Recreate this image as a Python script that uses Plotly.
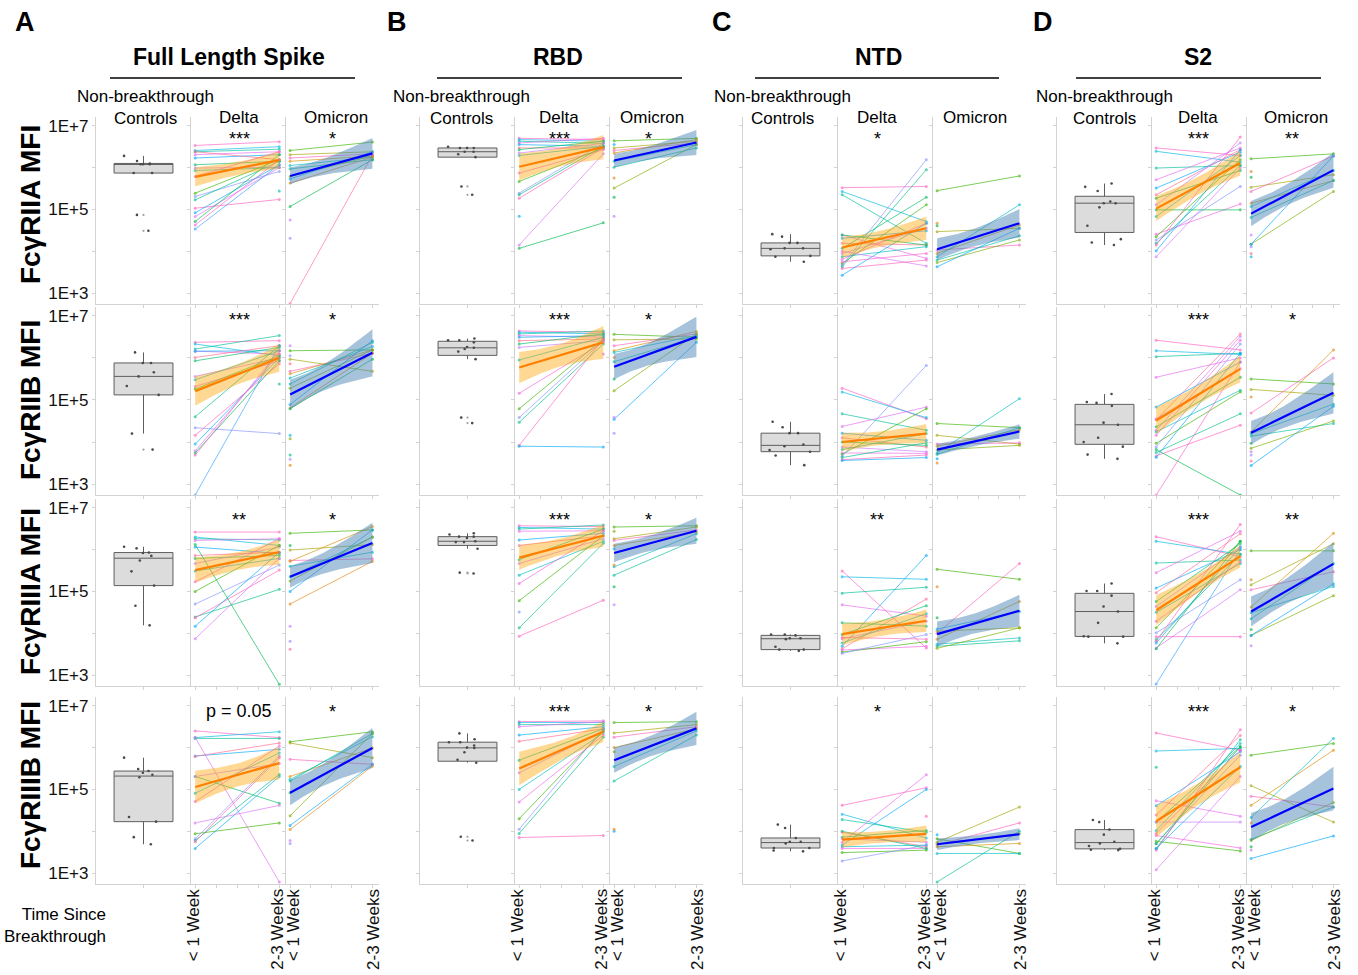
import numpy as np
import plotly.graph_objects as go

# ---------------- labels ----------------
ANTIGENS = ["Full Length Spike", "RBD", "NTD", "S2"]
ANTIGEN_KEYS = ["FLS", "RBD", "NTD", "S2"]
LETTERS = ["A", "B", "C", "D"]
RECEPTORS = ["FcγRIIA", "FcγRIIB", "FcγRIIIA", "FcγRIIIB"]
RECEPTOR_KEYS = ["IIA", "IIB", "IIIA", "IIIB"]
TIMEPOINTS = ["< 1 Week", "2-3 Weeks"]
Y_TICKVALS = [3, 4, 5, 6, 7]
Y_TICKTEXT = ["1E+3", "", "1E+5", "", "1E+7"]

SIG_DELTA = [["***", "***", "*", "***"],
             ["***", "***", "", "***"],
             ["**", "***", "**", "***"],
             ["p = 0.05", "***", "*", "***"]]
SIG_OMICRON = [["*", "*", "", "**"],
               ["*", "*", "", "*"],
               ["*", "*", "", "**"],
               ["*", "*", "", "*"]]

# ---------------- data (log10 MFI) ----------------
# ctrl: non-breakthrough controls; delta/omicron: (<1 week, 2-3 weeks) pairs per subject
# *_fit: [fit at <1 wk, fit at 2-3 wk, CI half-width at <1 wk, CI half-width at 2-3 wk]
FLS_IIA_ctrl = [6.28, 6.16, 6.08, 6.08, 6.08, 6.10, 5.87, 5.87, 4.87, 4.49]
FLS_IIA_delta = [(6.53, 6.62), (6.41, 6.50), (6.38, 6.44), (6.31, 6.38), (6.23, 6.31), (6.38, 6.19), (6.07, 6.15),
                 (5.99, 6.01), (5.93, 6.00), (5.79, 6.38), (5.39, 6.19), (5.31, 5.91), (5.23, 6.15), (5.03, 5.24),
                 (4.92, 6.07), (4.83, 6.00), (4.71, 6.31), (4.63, 6.19), (4.53, 6.07), (None, 5.44)]
FLS_IIA_omicron = [(6.41, 6.61), (6.31, 6.38), (6.23, 6.33), (6.15, 6.28), (6.05, 6.25), (5.97, 6.19), (5.79, 6.28),
                   (5.73, 6.38), (5.63, 6.25), (5.07, 6.19), (4.75, None), (4.31, None), (2.75, 6.30)]
FLS_IIA_delta_fit = [5.78, 6.18, 0.23, 0.21]
FLS_IIA_omicron_fit = [5.80, 6.34, 0.20, 0.37]

FLS_IIB_ctrl = [6.13, 5.88, 5.88, 5.66, 5.56, 5.33, 5.12, 4.20, 3.82]
FLS_IIB_delta = [(6.37, 6.41), (6.33, 6.05), (6.21, 6.53), (6.16, 6.09), (6.16, 6.17), (6.01, 6.29), (5.93, 6.25),
                 (5.56, 6.00), (5.48, 6.17), (5.32, 5.93), (5.26, 6.05), (4.34, 4.20), (4.60, 6.29), (4.16, 5.86),
                 (3.95, 6.00), (3.79, 6.09), (3.74, 5.93), (3.69, 6.17), (2.74, 6.29), (None, 5.38)]
FLS_IIB_omicron = [(6.17, 6.19), (5.97, 5.68), (5.68, 6.11), (5.62, 6.19), (5.52, 6.27), (5.38, 6.37), (5.28, 6.19),
                   (4.89, 6.41), (4.81, 6.11), (4.79, 5.97), (6.29, None), (6.05, None), (5.86, None), (4.16, None),
                   (4.08, None), (3.69, None), (3.59, None), (3.45, None)]
FLS_IIB_delta_fit = [5.21, 6.00, 0.35, 0.33]
FLS_IIB_omicron_fit = [5.13, 6.12, 0.35, 0.56]

FLS_IIIA_ctrl = [6.07, 6.03, 5.93, 5.92, 5.85, 5.74, 5.48, 5.14, 4.66, 4.19]
FLS_IIIA_delta = [(6.42, 6.42), (6.30, 6.10), (6.26, 6.23), (6.22, 6.26), (6.06, 5.91), (5.86, 5.94), (5.79, 5.86),
                  (5.67, 6.06), (5.49, 5.79), (5.23, 6.26), (5.00, 6.10), (4.70, 5.63), (4.39, 5.05), (4.37, 5.51),
                  (4.17, 5.94), (3.87, 5.79), (6.12, 2.78)]
FLS_IIIA_omicron = [(6.39, 6.47), (5.99, 6.12), (5.74, 5.78), (5.72, 6.55), (5.60, 5.94), (5.35, 6.30), (5.25, 6.30),
                    (5.00, 6.47), (4.70, 5.72), (6.10, None), (4.17, None), (3.81, None), (3.62, None)]
FLS_IIIA_delta_fit = [5.51, 5.94, 0.30, 0.30]
FLS_IIIA_omicron_fit = [5.35, 6.16, 0.26, 0.48]

FLS_IIIB_ctrl = [5.76, 5.49, 5.44, 5.40, 5.35, 5.29, 4.34, 4.23, 3.86, 3.69]
FLS_IIIB_delta = [(6.40, 6.24), (6.24, 6.38), (6.22, 6.22), (6.24, 2.79), (5.80, 5.96), (5.79, 6.11), (5.31, 4.67),
                  (5.31, 5.62), (4.91, 5.87), (4.71, 6.04), (3.94, 4.20), (3.82, 5.80), (3.78, 5.36), (3.75, 5.76),
                  (3.59, 5.31), (4.20, 4.62)]
FLS_IIIB_omicron = [(6.14, 6.38), (6.11, 5.76), (5.72, 5.60), (5.31, 5.99), (5.24, 6.26), (5.20, 6.34), (4.37, 6.34),
                    (4.14, 5.60), (4.04, 5.56), (4.92, None), (3.78, None), (3.71, None)]
FLS_IIIB_delta_fit = [5.06, 5.63, 0.39, 0.39]
FLS_IIIB_omicron_fit = [4.92, 5.99, 0.30, 0.48]

RBD_IIA_ctrl = [6.50, 6.47, 6.47, 6.47, 6.38, 6.38, 6.32, 6.25, 5.55, 5.35]
RBD_IIA_delta = [(6.70, 6.67), (6.67, 6.63), (6.63, 6.58), (6.59, 6.70), (6.55, 6.51), (6.47, 6.47), (6.43, 6.63),
                 (6.35, 6.58), (6.29, 6.51), (5.87, 6.43), (5.67, 6.47), (5.39, 6.58), (5.35, 6.51), (5.27, 6.47),
                 (4.84, None), (4.15, 6.33), (4.07, 4.68)]
RBD_IIA_omicron = [(6.64, 6.70), (6.47, 6.63), (6.41, 6.59), (6.35, 6.67), (6.15, 6.55), (6.01, 6.47), (5.51, 6.55),
                   (6.55, None), (5.75, None), (5.29, None), (4.84, None)]
RBD_IIA_delta_fit = [6.02, 6.49, 0.32, 0.29]
RBD_IIA_omicron_fit = [6.17, 6.60, 0.16, 0.30]

RBD_IIB_ctrl = [6.46, 6.42, 6.42, 6.37, 6.26, 6.24, 6.21, 6.15, 5.97, 4.58, 4.45]
RBD_IIB_delta = [(6.64, 6.61), (6.61, 6.57), (6.57, 6.64), (6.53, 6.49), (6.49, 6.53), (6.41, 6.45), (6.33, 6.57),
                 (6.25, 6.41), (5.95, 6.49), (5.16, 6.37), (4.79, 6.45), (4.58, 6.41), (4.47, 6.33), (3.92, 6.45),
                 (3.90, 3.88), (None, 6.09)]
RBD_IIB_omicron = [(6.56, 6.49), (6.43, 6.45), (6.29, 6.57), (6.17, 6.63), (6.13, 6.53), (5.91, 6.49), (5.22, 6.57),
                   (4.54, 6.37), (6.01, None), (5.50, None), (4.59, None), (4.21, None)]
RBD_IIB_delta_fit = [5.77, 6.37, 0.37, 0.39]
RBD_IIB_omicron_fit = [5.79, 6.50, 0.30, 0.48]

RBD_IIIA_ctrl = [6.39, 6.36, 6.31, 6.31, 6.28, 6.20, 6.18, 6.18, 6.02, 5.45, 5.43]
RBD_IIIA_delta = [(6.57, 6.55), (6.53, 6.49), (6.49, 6.59), (6.44, 6.45), (6.23, 6.39), (6.10, 6.33), (5.76, 6.49),
                  (5.67, 6.26), (5.39, 6.20), (5.19, 6.45), (4.78, 6.33), (4.51, None), (4.13, 6.15), (3.93, 4.79)]
RBD_IIIA_omicron = [(6.54, 6.57), (6.26, 6.54), (6.22, 6.47), (6.10, 6.42), (5.59, 6.38), (5.39, 6.24), (6.44, None),
                    (6.02, None), (5.63, None), (5.11, None), (4.68, None)]
RBD_IIIA_delta_fit = [5.81, 6.33, 0.29, 0.27]
RBD_IIIA_omicron_fit = [5.92, 6.45, 0.22, 0.31]

RBD_IIIB_ctrl = [6.34, 6.20, 6.13, 6.13, 6.05, 6.00, 5.99, 5.89, 5.71, 5.64, 3.87, 3.78]
RBD_IIIB_delta = [(6.62, 6.64), (6.60, 6.60), (6.55, 6.55), (6.50, 6.62), (6.30, 6.50), (6.15, 6.45), (5.70, 6.45),
                  (5.40, 6.40), (5.00, 6.35), (4.70, 6.30), (4.30, 6.40), (4.05, 6.45), (3.95, 6.25), (3.85, 3.90)]
RBD_IIIB_omicron = [(6.60, 6.62), (6.35, 6.55), (6.25, 6.50), (6.00, 6.45), (5.55, 6.40), (5.20, 6.30), (5.90, None),
                    (4.00, None), (4.05, None)]
RBD_IIIB_delta_fit = [5.50, 6.38, 0.40, 0.25]
RBD_IIIB_omicron_fit = [5.70, 6.46, 0.30, 0.40]

NTD_IIA_ctrl = [4.41, 4.35, 4.20, 4.20, 4.07, 4.07, 4.05, 3.89, 3.87, 3.75]
NTD_IIA_delta = [(5.52, 5.55), (5.43, 4.71), (5.35, 4.19), (4.39, 3.83), (4.31, 4.49), (4.19, 4.15), (4.07, 5.29),
                 (3.95, 4.55), (3.87, 4.11), (3.81, 4.67), (3.71, 5.11), (3.67, 6.19), (3.63, 5.95), (3.59, 3.79),
                 (3.43, 4.67), (4.00, 3.65), (4.39, 4.15), (3.75, 3.95)]
NTD_IIA_omicron = [(5.45, 5.80), (4.47, 4.55), (4.03, 4.15), (3.95, 4.63), (3.87, 5.11), (3.79, 4.37), (3.73, 4.27),
                   (3.63, 4.55), (4.67, None), (4.61, None)]
NTD_IIA_delta_fit = [4.09, 4.55, 0.25, 0.28]
NTD_IIA_omicron_fit = [4.05, 4.67, 0.26, 0.34]

NTD_IIB_ctrl = [4.48, 4.35, 4.21, 4.21, 3.94, 3.90, 3.81, 3.77, 3.68, 3.45]
NTD_IIB_delta = [(5.28, 4.55), (5.19, 4.58), (4.67, 4.28), (4.37, 4.83), (4.21, 4.04), (4.10, 3.88), (4.00, 3.92),
                 (3.88, 3.77), (3.82, 4.20), (3.74, 3.73), (3.71, 4.79), (3.66, 5.82), (3.63, 3.98), (3.58, 3.69),
                 (3.56, 3.63)]
NTD_IIB_omicron = [(4.44, 4.34), (4.16, 3.95), (3.95, 3.98), (3.90, 4.29), (3.74, 5.03), (3.71, 4.34), (3.81, 3.92),
                   (3.60, None), (3.50, None)]
NTD_IIB_delta_fit = [4.00, 4.20, 0.22, 0.23]
NTD_IIB_omicron_fit = [3.82, 4.25, 0.14, 0.17]

NTD_IIIA_ctrl = [3.97, 3.97, 3.95, 3.88, 3.88, 3.86, 3.68, 3.61, 3.61, 3.58]
NTD_IIIA_delta = [(5.49, 3.65), (5.35, 5.29), (4.96, 5.10), (4.68, 4.41), (3.69, 5.86), (3.63, 4.82), (3.97, 4.66),
                  (3.87, 4.29), (3.77, 4.47), (3.60, 3.69), (3.55, 3.80), (3.52, 3.97), (4.25, 4.17), (3.90, 3.86)]
NTD_IIIA_omicron = [(5.53, 5.29), (4.05, 4.13), (4.00, 5.67), (3.86, 4.76), (3.74, 3.89), (3.69, 3.82), (3.64, 4.13),
                    (4.10, 4.52), (5.11, None), (4.37, None)]
NTD_IIIA_delta_fit = [3.98, 4.30, 0.26, 0.27]
NTD_IIIA_omicron_fit = [3.98, 4.54, 0.30, 0.38]

NTD_IIIB_ctrl = [4.16, 4.08, 3.84, 3.75, 3.75, 3.71, 3.60, 3.60, 3.54, 3.52]
NTD_IIIB_delta = [(4.62, 5.04), (4.41, 3.84), (4.28, 3.98), (3.74, 5.35), (3.67, 5.00), (3.98, 3.63), (3.86, 4.02),
                  (3.82, 3.74), (3.63, 3.67), (3.59, 3.59), (3.49, 3.55), (3.29, 3.67), (4.00, 3.59), (None, 4.36)]
NTD_IIIB_omicron = [(3.82, 3.47), (3.74, 4.58), (3.67, 4.20), (3.63, 3.71), (3.47, 3.47), (2.79, 4.00), (3.70, 3.94),
                    (3.92, None)]
NTD_IIIB_delta_fit = [3.80, 3.94, 0.18, 0.20]
NTD_IIIB_omicron_fit = [3.69, 3.93, 0.14, 0.14]

S2_IIA_ctrl = [5.62, 5.54, 5.44, 5.19, 5.15, 5.15, 5.05, 4.61, 4.29, 4.21, 4.15]
S2_IIA_delta = [(6.47, 6.29), (6.39, 6.13), (5.99, 6.05), (5.71, 6.47), (5.51, 6.37), (5.35, 6.43), (5.27, 5.93),
                (5.11, 6.59), (4.83, 6.29), (4.41, 5.13), (4.35, 6.19), (4.27, 5.55), (4.19, 6.05), (4.15, 6.73),
                (4.01, 6.43), (3.87, 5.99), (4.99, 4.99)]
S2_IIA_omicron = [(6.21, 6.33), (5.53, 5.83), (5.43, 6.28), (5.15, 5.69), (5.07, 5.93), (4.81, 5.69), (4.17, 5.43),
                  (4.17, 6.28), (5.91, None), (5.77, None), (4.39, None), (4.11, None), (3.95, None), (3.87, None)]
S2_IIA_delta_fit = [5.02, 6.11, 0.30, 0.30]
S2_IIA_omicron_fit = [4.90, 5.94, 0.30, 0.42]

S2_IIB_ctrl = [5.14, 4.95, 4.93, 4.86, 4.46, 4.41, 4.10, 4.00, 3.89, 3.70, 3.60]
S2_IIB_delta = [(6.42, 6.19), (6.17, 6.08), (6.03, 6.11), (5.54, 6.00), (4.83, 5.90), (4.53, 6.57), (4.36, 5.54),
                (4.28, 6.51), (4.24, 5.23), (4.16, 6.42), (3.97, 5.19), (3.88, 6.33), (3.75, 4.67), (3.67, 4.40),
                (3.64, 6.11), (4.55, 5.74), (3.82, 2.74), (2.74, 5.90)]
S2_IIB_omicron = [(5.50, 5.38), (5.25, 5.11), (4.69, 6.00), (4.24, 6.19), (4.20, 4.90), (4.14, 4.44), (3.85, 4.50),
                  (3.44, 4.85), (5.07, None), (3.97, None), (3.77, None), (3.69, None), (3.55, None)]
S2_IIB_delta_fit = [4.51, 5.74, 0.32, 0.32]
S2_IIB_omicron_fit = [4.22, 5.17, 0.28, 0.49]

S2_IIIA_ctrl = [5.19, 5.01, 5.01, 4.90, 4.64, 4.52, 4.25, 3.93, 3.92, 3.92, 3.76]
S2_IIIA_delta = [(6.31, 5.83), (6.20, 5.89), (5.68, 5.75), (5.45, 6.44), (5.08, 6.00), (4.97, 6.38), (4.76, 6.14),
                 (4.64, 6.06), (4.50, 5.67), (4.29, 5.71), (4.13, 6.20), (4.01, 5.28), (3.85, 5.89), (3.81, 6.60),
                 (3.77, 6.06), (3.65, 5.04), (3.63, 6.20), (3.92, 3.92), (2.79, 6.00)]
S2_IIIA_omicron = [(5.97, 5.97), (5.16, 6.14), (5.04, 5.47), (4.63, 6.39), (4.49, 5.12), (4.35, 5.67), (3.95, 4.90),
                   (3.95, 5.18), (5.28, None), (4.09, None), (3.70, None)]
S2_IIIA_delta_fit = [4.55, 5.84, 0.36, 0.27]
S2_IIIA_omicron_fit = [4.52, 5.66, 0.36, 0.52]

S2_IIIB_ctrl = [4.27, 4.22, 4.04, 3.92, 3.75, 3.71, 3.65, 3.58, 3.56, 3.55]
S2_IIIB_delta = [(6.35, 5.94), (5.92, 5.98), (5.53, None), (4.73, 4.36), (4.61, 5.90), (4.39, 6.29), (4.22, 6.02),
                 (4.22, 4.22), (4.02, 6.10), (3.90, 3.60), (3.76, 3.53), (3.71, 5.82), (3.59, 6.19), (3.55, 6.43),
                 (3.59, 5.55), (3.08, 5.31), (3.70, 6.02), (3.95, 5.94)]
S2_IIIB_omicron = [(5.82, 6.10), (5.09, 4.22), (4.84, 4.58), (4.62, 5.94), (4.33, 6.22), (3.81, 4.58), (3.78, 4.69),
                   (3.35, 3.89), (4.20, None), (3.63, None), (3.55, None)]
S2_IIIB_delta_fit = [4.24, 5.53, 0.38, 0.36]
S2_IIIB_omicron_fit = [4.10, 5.02, 0.34, 0.52]

_G = globals()


def panel(ag, rc, part):
    return _G[f"{ag}_{rc}_{part}"]


# ---------------- styling / layout constants ----------------
W, H = 1358, 975
GROUP_X0 = [96, 420, 743, 1057]
PANEL_OFF = [(0, 95), (95, 190), (190, 283)]
ROW_PX = [(117, 304), (307, 495), (499, 686), (697, 884)]
Y_RANGE = [2.74, 7.21]
X_RANGE_LINES = [-0.05, 1.08]
AXC = "#D3D3D3"
FONT = "Arial, Liberation Sans, Helvetica, sans-serif"
# pixel nudges of the rotated time labels: (delta <1wk, delta 2-3wk), (omicron <1wk, omicron 2-3wk)
TIME_LABEL_SHIFT = {1: (-2, -2), 2: (3, 1)}

DELTA_PAL = ["#FF61C3", "#00B8E7", "#00C19A", "#E76BF3", "#00A9FF", "#FF6C91", "#00BE67", "#C77CFF",
             "#00BFC4", "#F564E3", "#39B600", "#8494FF", "#00C08B", "#FF62BC", "#00ABFD", "#DC71FA",
             "#00BB4E", "#FD61D1", "#35A2FF", "#00C1AA"]
OMI_PAL = ["#39B600", "#A3A500", "#FF62BC", "#D89000", "#00BFC4", "#00C19A", "#7CAE00", "#00A9FF",
           "#E68613", "#00BB4E", "#C77CFF", "#9590FF", "#FF6C91", "#00B8E7", "#8AAB00", "#00C08B",
           "#B385FF", "#E38900"]

DELTA_RIBBON = "rgba(255,165,0,0.42)"
DELTA_LINE = "#FF8000"
OMI_RIBBON = "rgba(70,130,180,0.48)"
OMI_LINE = "#0000FF"


def px_x(p):
    return p / W


def px_y(p):
    return 1 - p / H


def inclusive_quartiles(v):
    s = sorted(v)
    n = len(s)
    if n % 2:
        lo, hi = s[: n // 2 + 1], s[n // 2:]
    else:
        lo, hi = s[: n // 2], s[n // 2:]
    return float(np.median(lo)), float(np.median(hi))


fig = go.Figure()
layout = {}
annotations = []
shapes = []

for r in range(4):
    ytop, ybot = ROW_PX[r]
    for g in range(4):
        ag, rc = ANTIGEN_KEYS[g], RECEPTOR_KEYS[r]
        for k in range(3):
            n = r * 12 + g * 3 + k + 1
            xa = "x" if n == 1 else f"x{n}"
            ya = "y" if n == 1 else f"y{n}"
            x0 = GROUP_X0[g] + PANEL_OFF[k][0]
            x1 = GROUP_X0[g] + PANEL_OFF[k][1]
            xdom = [px_x(x0), px_x(x1)]
            ydom = [px_y(ybot), px_y(ytop)]
            bottom = (r == 3)
            xaxis = dict(domain=xdom, anchor=ya, showgrid=False, zeroline=False, showline=True,
                         linecolor=AXC, linewidth=1.3, ticks="outside", ticklen=3, tickcolor=AXC,
                         showticklabels=False, fixedrange=True)
            yaxis = dict(domain=ydom, anchor=xa, range=Y_RANGE, showgrid=False, zeroline=False,
                         showline=True, linecolor=AXC, linewidth=1.3, ticks="outside", ticklen=3,
                         tickcolor=AXC, tickvals=Y_TICKVALS, ticktext=Y_TICKTEXT,
                         showticklabels=(g == 0 and k == 0),
                         tickfont=dict(family=FONT, size=17, color="#111"), fixedrange=True)
            if k == 0:
                xaxis.update(range=[-0.5, 0.5], tickvals=[0])
                vals = panel(ag, rc, "ctrl")
                fig.add_trace(go.Box(
                    y=vals, x0=0, width=0.62, boxpoints="all", jitter=0.9, pointpos=0,
                    quartilemethod="inclusive", whiskerwidth=0,
                    fillcolor="#DCDCDC", line=dict(color="#5E5E5E", width=1),
                    marker=dict(color="#4A4A4A", size=2.6), xaxis=xa, yaxis=ya,
                    showlegend=False, hoverinfo="skip"))
                q1, q3 = inclusive_quartiles(vals)
                iqr = q3 - q1
                outl = [v for v in vals if v < q1 - 1.5 * iqr or v > q3 + 1.5 * iqr]
                if outl:
                    fig.add_trace(go.Scatter(x=[0] * len(outl), y=outl, mode="markers",
                                             marker=dict(color="#A0A0A0", size=2.2), xaxis=xa, yaxis=ya,
                                             showlegend=False, hoverinfo="skip"))
            else:
                xaxis.update(range=X_RANGE_LINES, tickvals=[0, 0.25, 0.5, 0.75, 1])
                if bottom:
                    for tx, lbl, sh in zip((0, 1), TIMEPOINTS, TIME_LABEL_SHIFT[k]):
                        annotations.append(dict(text=lbl, x=tx, xref=xa, y=px_y(887), yref="paper",
                                                showarrow=False, textangle=-90, xanchor="center",
                                                yanchor="top", xshift=sh,
                                                font=dict(family=FONT, size=17, color="#111")))
                part = "delta" if k == 1 else "omicron"
                pal = DELTA_PAL if k == 1 else OMI_PAL
                pairs = panel(ag, rc, part)
                for i, (a, b) in enumerate(pairs):
                    col = pal[i % len(pal)]
                    xs = [t for t, v in zip((0, 1), (a, b)) if v is not None]
                    ys = [v for v in (a, b) if v is not None]
                    fig.add_trace(go.Scatter(x=xs, y=ys, mode="lines+markers",
                                             line=dict(color=col, width=1), marker=dict(color=col, size=3),
                                             opacity=0.65, xaxis=xa, yaxis=ya, showlegend=False,
                                             hoverinfo="skip"))
                y0, y1, w0, w1 = panel(ag, rc, part + "_fit")
                t = np.linspace(0, 1, 31)
                c = y0 + (y1 - y0) * t
                hw = np.sqrt(((1 - t) * w0) ** 2 + (t * w1) ** 2)
                up, lo = c + hw, c - hw
                fig.add_trace(go.Scatter(x=np.concatenate([t, t[::-1]]), y=np.concatenate([up, lo[::-1]]),
                                         fill="toself", mode="lines", line=dict(width=0),
                                         fillcolor=DELTA_RIBBON if k == 1 else OMI_RIBBON,
                                         xaxis=xa, yaxis=ya, showlegend=False, hoverinfo="skip"))
                fig.add_trace(go.Scatter(x=[0, 1], y=[y0, y1], mode="lines",
                                         line=dict(color=DELTA_LINE if k == 1 else OMI_LINE, width=2.2),
                                         xaxis=xa, yaxis=ya, showlegend=False, hoverinfo="skip"))
            layout["xaxis" if n == 1 else f"xaxis{n}"] = xaxis
            layout["yaxis" if n == 1 else f"yaxis{n}"] = yaxis


# ---------------- text ----------------
def ann(text, x, y, size=17, bold=False, angle=0, xanchor="center", yanchor="middle", align="center"):
    annotations.append(dict(text=f"<b>{text}</b>" if bold else text, x=px_x(x), y=px_y(y),
                            xref="paper", yref="paper", showarrow=False, textangle=angle,
                            xanchor=xanchor, yanchor=yanchor, align=align,
                            font=dict(family=FONT, size=size, color="#000")))


LETTER_X = [25, 397, 722, 1043]
TITLE_X = [229, 558, 878, 1198]
LINE_X = [(110, 355), (437, 682), (755, 999), (1076, 1321)]
CTRL_LBL_X = [145, 461, 783, 1104]
DELTA_LBL_X = [239, 559, 877, 1198]
OMI_LBL_X = [336, 652, 975, 1296]
ROW_LBL_Y = [205, 400, 592, 785]
SIG_Y = [139, 320, 520, 712]

for g in range(4):
    ann(LETTERS[g], LETTER_X[g], 22, size=27, bold=True)
    ann(ANTIGENS[g], TITLE_X[g], 57, size=23, bold=True)
    shapes.append(dict(type="line", xref="paper", yref="paper", x0=px_x(LINE_X[g][0]), x1=px_x(LINE_X[g][1]),
                       y0=px_y(78), y1=px_y(78), line=dict(color="#000", width=1.5)))
    ann("Non-breakthrough", CTRL_LBL_X[g], 97)
    ann("Controls", CTRL_LBL_X[g], 118)
    ann("Delta", DELTA_LBL_X[g], 117)
    ann("Omicron", OMI_LBL_X[g], 117)
    for r in range(4):
        if SIG_DELTA[r][g]:
            sd = SIG_DELTA[r][g]
            ann(sd, DELTA_LBL_X[g], SIG_Y[r] if sd.startswith("*") else SIG_Y[r] - 1, size=18)
        if SIG_OMICRON[r][g]:
            ann(SIG_OMICRON[r][g], OMI_LBL_X[g] - 4, SIG_Y[r], size=18)

for r in range(4):
    ann(f"{RECEPTORS[r]} MFI", 30, ROW_LBL_Y[r], size=28, bold=True, angle=-90)

ann("Time Since<br>Breakthrough", 108, 925, size=17, xanchor="right", align="right")

layout.update(width=W, height=H, margin=dict(l=0, r=0, t=0, b=0), plot_bgcolor="white",
              paper_bgcolor="white", showlegend=False, annotations=annotations, shapes=shapes,
              font=dict(family=FONT))
fig.update_layout(**layout)
fig.write_html("out.html", config={"displayModeBar": False},
               post_script="document.body.style.margin='0';")
